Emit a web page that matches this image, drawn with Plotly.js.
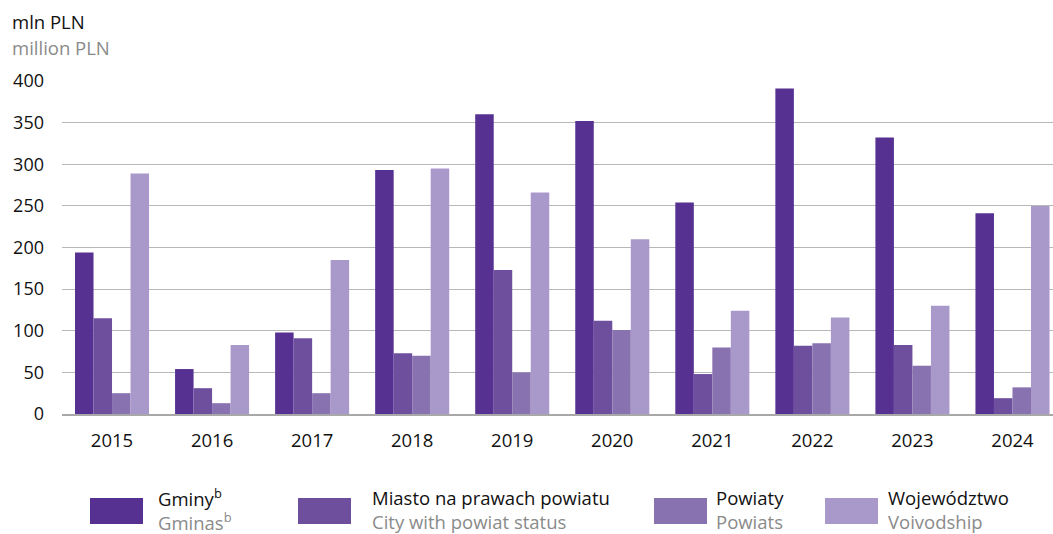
<!DOCTYPE html>
<html>
<head>
<meta charset="utf-8">
<script src="https://cdn.plot.ly/plotly-3.0.1.min.js"></script>
<style>html,body{margin:0;padding:0;background:#fff;}#chart{width:1053px;height:534px;}</style>
</head>
<body>
<div id="chart"></div>
<script>
const years = ['2015','2016','2017','2018','2019','2020','2021','2022','2023','2024'];
const gminy = [194, 54, 98, 293, 360, 352, 254, 391, 332, 241];
const miasto = [115, 31, 91, 73, 173, 112, 48, 82, 83, 19];
const powiaty = [25, 13, 25, 70, 50, 101, 80, 85, 58, 32];
const wojewodztwo = [289, 83, 185, 295, 266, 210, 124, 116, 130, 250];
const seriesNamesPL = ['Gminy<sup>b</sup>', 'Miasto na prawach powiatu', 'Powiaty', 'Województwo'];
const seriesNamesEN = ['Gminas<sup>b</sup>', 'City with powiat status', 'Powiats', 'Voivodship'];
const colors = ['#563192', '#6e4f9e', '#8872b0', '#a998ca'];
const yTicks = [0, 50, 100, 150, 200, 250, 300, 350, 400];

const FONT = 'Open Sans, Noto Sans, sans-serif';
const values = [gminy, miasto, powiaty, wojewodztwo];
const traces = values.map((v, i) => ({
  type: 'bar', x: years, y: v, name: seriesNamesPL[i],
  marker: {color: colors[i], line: {width: 0}},
  hoverinfo: 'x+y'
}));

// plot area in pixels
const L = 62, R = 1053, T = 81, B = 414;
const px = x => (x - L) / (R - L);
const py = y => (B - y) / (B - T);

const legendSwatchX = [90, 298, 654, 825];
const legendTextX = [156, 370, 714, 886];
const shapes = [];
const annotations = [];
legendSwatchX.forEach((sx, i) => {
  shapes.push({type: 'rect', xref: 'paper', yref: 'paper',
    x0: px(sx), x1: px(sx + 53), y0: py(498), y1: py(524),
    fillcolor: colors[i], line: {width: 0}});
  annotations.push({xref: 'paper', yref: 'paper', x: px(legendTextX[i]), y: py(497),
    xanchor: 'left', yanchor: 'middle', showarrow: false, text: seriesNamesPL[i],
    font: {family: FONT, size: 18.5, color: '#111'}});
  annotations.push({xref: 'paper', yref: 'paper', x: px(legendTextX[i]), y: py(521),
    xanchor: 'left', yanchor: 'middle', showarrow: false, text: seriesNamesEN[i],
    font: {family: FONT, size: 18.5, color: '#8a8a8a'}});
});
annotations.push({xref: 'paper', yref: 'paper', x: px(10), y: py(21),
  xanchor: 'left', yanchor: 'middle', showarrow: false, text: 'mln PLN',
  font: {family: FONT, size: 18.5, color: '#111'}});
annotations.push({xref: 'paper', yref: 'paper', x: px(10), y: py(47),
  xanchor: 'left', yanchor: 'middle', showarrow: false, text: 'million PLN',
  font: {family: FONT, size: 18.5, color: '#8a8a8a'}});

const layout = {
  width: 1053, height: 534,
  margin: {l: L, r: 1053 - R, t: T, b: 534 - B, pad: 0},
  paper_bgcolor: '#fff', plot_bgcolor: '#fff',
  barmode: 'group', bargap: 0.26, bargroupgap: 0,
  showlegend: false,
  font: {family: FONT, size: 18, color: '#111'},
  xaxis: {type: 'category', range: [-0.5, 9.405], showgrid: false,
    showline: true, linecolor: '#a8a8a8', linewidth: 2, ticks: '',
    ticklabelstandoff: 9, tickfont: {family: FONT, size: 18.5, color: '#111'}, fixedrange: true},
  yaxis: {range: [0, 400], tickvals: yTicks, ticktext: yTicks.map(String),
    showgrid: true, gridcolor: '#b8b8b8', gridwidth: 1, zeroline: false,
    showline: false, ticks: '', ticklabelstandoff: 17,
    tickfont: {family: FONT, size: 18, color: '#111'}, fixedrange: true},
  shapes: shapes,
  annotations: annotations
};

Plotly.newPlot('chart', traces, layout, {displayModeBar: false, staticPlot: true});
</script>
</body>
</html>
